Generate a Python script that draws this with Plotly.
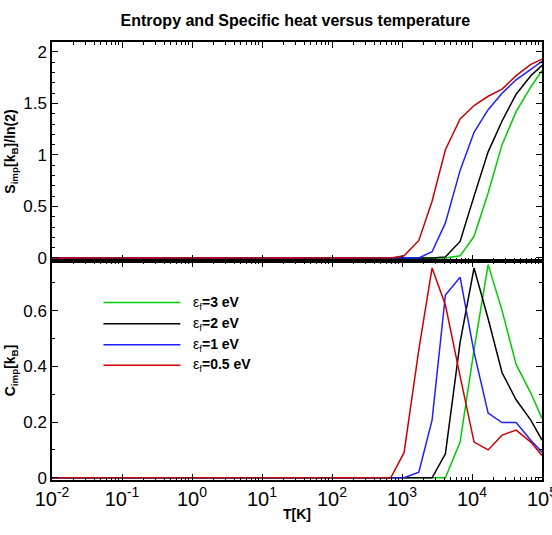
import plotly.graph_objects as go
from plotly.subplots import make_subplots

# Temperature grid [K]
T = [0.01, 690, 1070, 1740, 2690, 4170, 6760, 10700, 17000, 26900, 42700, 69200, 100000]

# Entropy S_imp [kB]/ln(2)
S_3 = [0, 0, 0, 0, 0, 0, 0.02, 0.21, 0.63, 1.10, 1.42, 1.66, 1.82]
S_2 = [0, 0, 0, 0, 0, 0.01, 0.16, 0.60, 1.03, 1.33, 1.59, 1.77, 1.87]
S_1 = [0, 0, 0, 0, 0.06, 0.34, 0.85, 1.22, 1.44, 1.60, 1.73, 1.83, 1.91]
S_05 = [0, 0, 0.02, 0.17, 0.55, 1.05, 1.35, 1.48, 1.57, 1.64, 1.77, 1.88, 1.93]

# Specific heat C_imp [kB]
C_3 = [0, 0, 0, 0, 0, 0, 0.128, 0.46, 0.765, 0.60, 0.407, 0.304, 0.213]
C_2 = [0, 0, 0, 0, 0, 0.086, 0.486, 0.753, 0.571, 0.377, 0.28, 0.207, 0.135]
C_1 = [0, 0, 0, 0.02, 0.207, 0.656, 0.72, 0.45, 0.232, 0.198, 0.198, 0.135, 0.092]
C_05 = [0, 0, 0.09, 0.46, 0.753, 0.62, 0.365, 0.128, 0.10, 0.153, 0.171, 0.128, 0.08]

labels = ["3", "2", "1", "0.5"]
colors = ["#00cc00", "#000000", "#1f1fff", "#cc0000"]
S_series = [S_3, S_2, S_1, S_05]
C_series = [C_3, C_2, C_1, C_05]

x_tickvals = [0.01, 0.1, 1, 10, 100, 1000, 10000, 99990]
x_ticktext = ["10<sup>-2</sup>", "10<sup>-1</sup>", "10<sup>0</sup>", "10<sup>1</sup>",
              "10<sup>2</sup>", "10<sup>3</sup>", "10<sup>4</sup>", "10<sup>5</sup>"]

FONT = "Arial, 'Liberation Sans', sans-serif"

fig = make_subplots(rows=2, cols=1, shared_xaxes=True, vertical_spacing=0)

for s, c, col in zip(S_series, C_series, colors):
    fig.add_trace(go.Scatter(x=T, y=s, mode="lines", line=dict(color=col, width=1.5),
                             showlegend=False), row=1, col=1)
    fig.add_trace(go.Scatter(x=T, y=c, mode="lines", line=dict(color=col, width=1.5),
                             showlegend=False), row=2, col=1)

minor_x = [m * 10 ** e for e in range(-2, 5) for m in range(2, 10)]

xcommon = dict(type="log", range=[-2, 5], tickvals=x_tickvals, ticktext=x_ticktext,
               ticks="inside", ticklen=6, tickwidth=1, tickcolor="black",
               showline=True, linecolor="black", linewidth=1.5, mirror="ticks",
               showgrid=False, zeroline=False, ticklabeloverflow="allow", automargin=False,
               minor=dict(tickvals=minor_x, ticks="inside", ticklen=3, tickcolor="black",
                          showgrid=False))
fig.update_xaxes(**xcommon)
fig.update_xaxes(showticklabels=False, row=1, col=1)
fig.update_xaxes(tickfont=dict(family=FONT, size=20, color="black"),
                 title=dict(text="<b>T[K]</b>", font=dict(family=FONT, size=14, color="black"),
                            standoff=0),
                 row=2, col=1)

ycommon = dict(ticks="inside", ticklen=6, tickwidth=1, tickcolor="black",
               showline=True, linecolor="black", linewidth=1.5, mirror="ticks",
               showgrid=False, zeroline=False, automargin=False,
               tickfont=dict(family=FONT, size=17, color="black"),
               minor=dict(dtick=0.1, ticks="inside", ticklen=3, tickcolor="black", showgrid=False))
fig.update_yaxes(**ycommon)
fig.update_yaxes(range=[-0.03, 2.097], tickvals=[0, 0.5, 1, 1.5, 2],
                 ticktext=["0", "0.5", "1", "1.5", "2"],
                 title=dict(text="<b>S<sub>imp</sub>[k<sub>B</sub>]/ln(2)</b>",
                            font=dict(family=FONT, size=14, color="black"), standoff=4),
                 row=1, col=1)
fig.update_yaxes(range=[-0.008, 0.778], tickvals=[0, 0.2, 0.4, 0.6],
                 ticktext=["0", "0.2", "0.4", "0.6"],
                 title=dict(text="<b>C<sub>imp</sub>[k<sub>B</sub>]</b>",
                            font=dict(family=FONT, size=14, color="black"), standoff=4),
                 row=2, col=1)

# Legend drawn inside the lower panel
leg_y = [0.405, 0.357, 0.309, 0.262]
for lab, col, ly in zip(labels, colors, leg_y):
    fig.add_shape(type="line", xref="paper", yref="paper", x0=0.105, x1=0.262, y0=ly, y1=ly,
                  line=dict(color=col, width=1.5))
    fig.add_annotation(xref="paper", yref="paper", x=0.283, y=ly, xanchor="left", yanchor="middle",
                       text="ε<sub>f</sub><b>=" + lab + " eV</b>", showarrow=False,
                       font=dict(family=FONT, size=14, color="black"))

fig.update_layout(
    width=552, height=535,
    margin=dict(l=52, r=10, t=42, b=55),
    paper_bgcolor="white", plot_bgcolor="white",
    title=dict(text="<b>Entropy and Specific heat versus temperature</b>",
               x=0.535, xanchor="center", y=0.962, yanchor="middle",
               font=dict(family=FONT, size=16, color="black")),
    font=dict(family=FONT, color="black"),
)

fig.write_html("out.html")
